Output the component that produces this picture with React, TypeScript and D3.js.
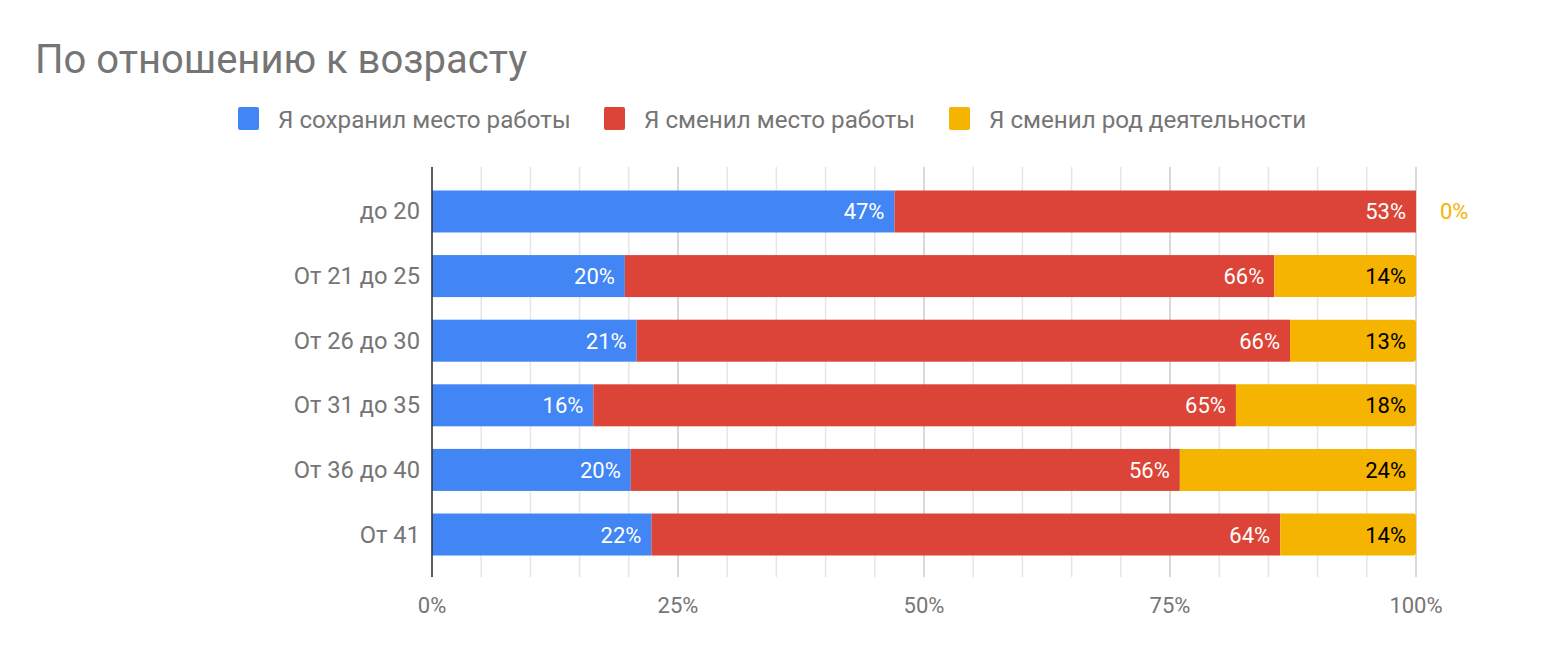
import React from "react";
import * as d3 from "d3";

const categories = ["до 20", "От 21 до 25", "От 26 до 30", "От 31 до 35", "От 36 до 40", "От 41"];
const seriesNames = ["Я сохранил место работы", "Я сменил место работы", "Я сменил род деятельности"];
const kept = [47.0, 19.6, 20.8, 16.4, 20.2, 22.3];
const changedJob = [53.0, 66.0, 66.4, 65.3, 55.8, 63.9];
const changedField = [0, 14.4, 12.8, 18.3, 24.0, 13.8];
const colors = ["#4285F4", "#DB4437", "#F4B400"];
const labelColors = ["#ffffff", "#ffffff", "#000000"];
const xTicks = [0, 25, 50, 75, 100];
const minorTicks = d3.range(0, 101, 5);

const W = 1546;
const H = 672;
const FONT = "Roboto, 'Noto Sans', sans-serif";

export default function App() {
  const x = d3.scaleLinear().domain([0, 100]).range([432, 1416]);
  const y = d3.scaleBand<string>().domain(categories).range([168, 578]).paddingInner(0.35).paddingOuter(0.348);
  const series = [kept, changedJob, changedField];
  const rows = categories.map((c, i) => ({ c, vals: series.map((s) => s[i]) }));
  const stacked = d3.stack<any>().keys(["0", "1", "2"]).value((d, k) => d.vals[+k])(rows);
  const bh = y.bandwidth();
  const legendItems = [
    { x: 238, tx: 278 },
    { x: 604, tx: 644 },
    { x: 949, tx: 989 },
  ];

  return (
    <svg width={W} height={H} style={{ position: "absolute", left: 0, top: 0, background: "#fff" }} fontFamily={FONT}>
      <rect x={0} y={0} width={W} height={H} fill="#fff" />
      <text x={35} y={73} fontSize={40} fill="#757575">По отношению к возрасту</text>
      {legendItems.map((it, i) => (
        <g key={i}>
          <rect x={it.x} y={107} width={21} height={23} rx={2} fill={colors[i]} />
          <text x={it.tx} y={127.5} fontSize={24.2} fill="#757575">{seriesNames[i]}</text>
        </g>
      ))}
      {minorTicks.map((t) => (
        <line key={"g" + t} x1={x(t)} x2={x(t)} y1={167} y2={577}
          stroke={t % 25 === 0 ? "#cccccc" : "#e6e6e6"} strokeWidth={1.5} />
      ))}
      {stacked.map((layer, si) =>
        layer.map((d, i) => {
          const x0 = x(d[0]);
          const x1 = x(d[1]);
          const w = x1 - x0;
          if (w <= 0) return null;
          const yy = y(categories[i])!;
          if (si === 2) {
            const r = 3;
            const path = `M${x0},${yy}H${x1 - r}Q${x1},${yy} ${x1},${yy + r}V${yy + bh - r}Q${x1},${yy + bh} ${x1 - r},${yy + bh}H${x0}Z`;
            return <path key={si + "-" + i} d={path} fill={colors[si]} />;
          }
          return <rect key={si + "-" + i} x={x0} y={yy} width={w} height={bh} fill={colors[si]} />;
        })
      )}
      {stacked.map((layer, si) =>
        layer.map((d, i) => {
          const v = series[si][i];
          const yy = y(categories[i])! + bh / 2 + 8;
          const txt = Math.round(v) + "%";
          if (v === 0) {
            return (
              <text key={"l" + si + i} x={x(100) + 24} y={yy} fontSize={22} fill={colors[si]}>{txt}</text>
            );
          }
          return (
            <text key={"l" + si + i} x={x(d[1]) - 10} y={yy} fontSize={22} textAnchor="end" fill={labelColors[si]}>{txt}</text>
          );
        })
      )}
      <line x1={x(0)} x2={x(0)} y1={167} y2={577} stroke="#333333" strokeWidth={1.5} />
      {categories.map((c) => (
        <text key={c} x={420} y={y(c)! + bh / 2 + 8} fontSize={23.7} textAnchor="end" fill="#757575">{c}</text>
      ))}
      {xTicks.map((t) => (
        <text key={"t" + t} x={x(t)} y={613} fontSize={22} textAnchor="middle" fill="#757575">{t}%</text>
      ))}
    </svg>
  );
}
